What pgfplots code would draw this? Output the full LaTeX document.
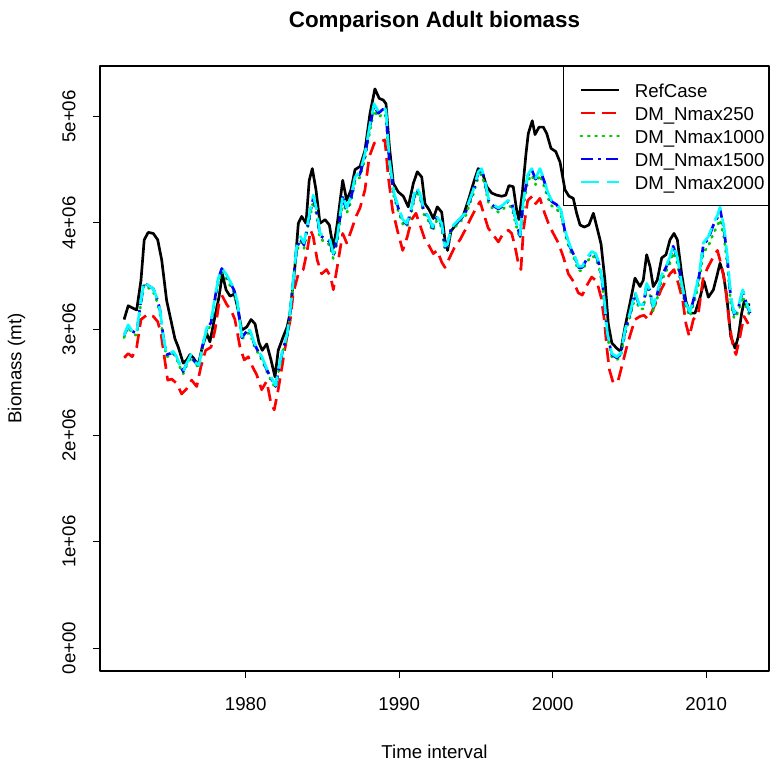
\documentclass[border=0pt]{standalone}
\usepackage{fontspec}
\setmainfont{Liberation Sans}
\usepackage{pgfplots}
\pgfplotsset{compat=1.18}
\definecolor{rgreen}{RGB}{0,205,0}
\definecolor{rcyan}{RGB}{0,255,255}
\definecolor{rblue}{RGB}{0,0,255}
\definecolor{rred}{RGB}{255,0,0}
\begin{document}
\begin{tikzpicture}
\path[use as bounding box] (-75pt,-72pt) rectangle (503.25pt,503.25pt);
\begin{axis}[
  at={(0pt,0pt)}, anchor=south west,
  scale only axis, width=501.75pt, height=453.75pt,
  xmin=1970.51, xmax=2014.09, ymin=-0.216, ymax=5.475,
  axis line style={line width=0.8pt},
  xtick={1980,1990,2000,2010}, xticklabels={1980,1990,2000,2010},
  ytick={0,1,2,3,4,5}, yticklabels={0e+00,1e+06,2e+06,3e+06,4e+06,5e+06},
  xtick pos=bottom, ytick pos=left,
  tick align=outside, major tick length=5.25pt,
  tick style={line width=0.8pt, black},
  every tick label/.append style={font=\fontsize{14}{17}\selectfont},
  xticklabel style={anchor=center, yshift=-19.5pt},
  yticklabel style={xshift=-18pt, rotate=90, anchor=center},
  xlabel={Time interval}, ylabel={Biomass (mt)},
  xlabel style={at={(axis description cs:0.5,-0.13388)}, anchor=center, font=\fontsize{14}{17}\selectfont},
  ylabel style={at={(axis description cs:-0.1246,0.5)}, anchor=center, font=\fontsize{14}{17}\selectfont},
  title={Comparison Adult biomass},
  title style={at={(axis description cs:0.5,1.0595)}, anchor=center, font=\bfseries\fontsize{16.8}{20}\selectfont},
  legend cell align=left,
  legend style={at={(1,1)}, anchor=north east, draw=black, fill=none, line width=0.8pt,
    inner xsep=3pt, inner ysep=9pt, row sep=0pt,
    font=\fontsize{14}{17}\selectfont,
    nodes={inner sep=0pt, text height=14.25pt, text depth=3pt},
    /tikz/every odd column/.append style={column sep=11pt}},
  legend image code/.code={\path (0pt,0pt); \draw[#1] (9pt,0pt) -- (37.5pt,0pt);},
  line join=round,
]
\addplot[black, line width=2pt] coordinates {
(1972.08,3.09) (1972.35,3.22) (1972.61,3.20) (1972.90,3.18) (1973.18,3.46) (1973.39,3.84)
(1973.65,3.91) (1973.98,3.90) (1974.27,3.84) (1974.53,3.65) (1974.85,3.27) (1975.18,3.05)
(1975.39,2.91) (1975.61,2.83) (1975.93,2.68) (1976.16,2.71) (1976.37,2.76) (1976.59,2.73)
(1976.91,2.66) (1977.17,2.83) (1977.46,2.96) (1977.67,2.88) (1978.00,3.12) (1978.26,3.30)
(1978.48,3.52) (1978.72,3.37) (1978.98,3.31) (1979.26,3.33) (1979.48,3.20) (1979.74,2.99)
(1980.07,3.02) (1980.35,3.09) (1980.61,3.05) (1980.87,2.87) (1981.08,2.80) (1981.37,2.86)
(1981.65,2.71) (1981.91,2.55) (1982.12,2.80) (1982.45,2.93) (1982.70,3.02) (1982.89,3.15)
(1983.21,3.59) (1983.43,3.995) (1983.65,4.06) (1983.93,3.995) (1984.14,4.40) (1984.34,4.51)
(1984.58,4.31) (1984.84,3.995) (1985.17,4.03) (1985.45,3.98) (1985.71,3.76) (1985.97,3.995)
(1986.32,4.40) (1986.58,4.21) (1986.86,4.31) (1987.12,4.50) (1987.45,4.53) (1987.77,4.68)
(1988.10,5.03) (1988.42,5.26) (1988.70,5.17) (1988.96,5.155) (1989.14,5.12) (1989.36,4.72)
(1989.62,4.37) (1989.94,4.29) (1990.27,4.25) (1990.59,4.15) (1990.92,4.37) (1991.18,4.48)
(1991.47,4.43) (1991.68,4.18) (1991.96,4.12) (1992.22,4.04) (1992.48,4.15) (1992.77,4.10)
(1992.98,3.84) (1993.15,3.74) (1993.37,3.92) (1993.75,3.995) (1994.18,4.07) (1994.50,4.21)
(1994.83,4.37) (1995.15,4.51) (1995.41,4.48) (1995.70,4.34) (1996.03,4.28) (1996.35,4.26)
(1996.68,4.25) (1996.94,4.26) (1997.15,4.35) (1997.43,4.34) (1997.65,4.12) (1997.80,4.03)
(1998.02,4.28) (1998.26,4.65) (1998.41,4.84) (1998.67,4.96) (1998.85,4.83) (1999.11,4.90)
(1999.39,4.90) (1999.61,4.84) (1999.89,4.70) (2000.20,4.67) (2000.48,4.57) (2000.80,4.31)
(2001.06,4.25) (2001.34,4.23) (2001.56,4.09) (2001.78,3.98) (2002.06,3.96) (2002.36,3.98)
(2002.65,4.09) (2002.93,3.93) (2003.15,3.80) (2003.41,3.45) (2003.62,3.05) (2003.85,2.87)
(2004.17,2.82) (2004.43,2.79) (2004.71,3.02) (2005.03,3.24) (2005.36,3.48) (2005.69,3.40)
(2005.90,3.46) (2006.12,3.70) (2006.34,3.59) (2006.55,3.40) (2006.81,3.46) (2007.10,3.67)
(2007.38,3.70) (2007.64,3.84) (2007.90,3.90) (2008.12,3.84) (2008.40,3.52) (2008.68,3.26)
(2008.94,3.15) (2009.27,3.15) (2009.60,3.30) (2009.86,3.45) (2010.14,3.30) (2010.47,3.37)
(2010.73,3.52) (2010.90,3.62) (2011.12,3.52) (2011.34,3.30) (2011.60,2.93) (2011.88,2.82)
(2012.09,2.93) (2012.31,3.15) (2012.47,3.26) (2012.64,3.23) (2012.86,3.23)
};
\addlegendentry{RefCase}
\addplot[rred, line width=2pt, dash pattern=on 10.5pt off 5.25pt] coordinates {
(1972.08,2.73) (1972.35,2.77) (1972.61,2.74) (1972.90,2.83) (1973.18,3.09) (1973.62,3.14)
(1973.98,3.12) (1974.27,3.07) (1974.48,2.96) (1974.70,2.74) (1974.92,2.52) (1975.18,2.53)
(1975.50,2.49) (1975.83,2.39) (1976.16,2.44) (1976.48,2.52) (1976.81,2.46) (1977.09,2.65)
(1977.39,2.80) (1977.74,2.83) (1978.00,2.99) (1978.26,3.24) (1978.48,3.31) (1978.77,3.23)
(1979.04,3.18) (1979.30,3.09) (1979.63,2.83) (1979.91,2.71) (1980.17,2.74) (1980.43,2.65)
(1980.72,2.57) (1981.04,2.43) (1981.37,2.51) (1981.65,2.30) (1981.86,2.24) (1982.12,2.43)
(1982.45,2.72) (1982.75,2.98) (1982.90,3.08) (1983.10,3.34) (1983.43,3.52) (1983.75,3.56)
(1983.97,3.71) (1984.23,3.93) (1984.40,3.87) (1984.66,3.65) (1984.95,3.52) (1985.27,3.56)
(1985.54,3.49) (1985.71,3.37) (1985.97,3.59) (1986.32,3.90) (1986.58,3.81) (1986.86,3.92)
(1987.19,4.06) (1987.45,4.14) (1987.77,4.31) (1988.05,4.62) (1988.38,4.75) (1988.75,4.76)
(1989.07,4.78) (1989.29,4.43) (1989.57,4.12) (1989.88,3.93) (1990.23,3.74) (1990.53,3.87)
(1990.81,4.03) (1991.09,4.09) (1991.40,3.96) (1991.68,3.84) (1991.96,3.78) (1992.22,3.71)
(1992.48,3.74) (1992.77,3.63) (1992.98,3.58) (1993.31,3.68) (1993.64,3.78) (1993.96,3.84)
(1994.29,3.93) (1994.62,4.03) (1994.94,4.12) (1995.27,4.20) (1995.54,4.07) (1995.80,3.95)
(1996.13,3.885) (1996.46,3.82) (1996.78,3.90) (1997.11,3.93) (1997.33,3.90) (1997.54,3.78)
(1997.76,3.62) (1997.93,3.56) (1998.09,3.93) (1998.37,4.21) (1998.67,4.25) (1998.89,4.18)
(1999.17,4.23) (1999.45,4.10) (1999.76,3.98) (2000.04,3.90) (2000.37,3.81) (2000.69,3.68)
(2001.02,3.52) (2001.34,3.45) (2001.67,3.34) (2001.93,3.32) (2002.22,3.41) (2002.54,3.49)
(2002.87,3.45) (2003.15,3.30) (2003.36,3.09) (2003.52,2.83) (2003.69,2.62) (2003.95,2.49)
(2004.27,2.52) (2004.56,2.68) (2004.82,2.83) (2005.08,2.96) (2005.36,3.09) (2005.69,3.12)
(2005.95,3.13) (2006.23,3.09) (2006.51,3.18) (2006.78,3.27) (2007.06,3.37) (2007.38,3.46)
(2007.64,3.52) (2007.90,3.56) (2008.18,3.43) (2008.47,3.27) (2008.68,3.05) (2008.90,2.93)
(2009.16,3.09) (2009.49,3.15) (2009.81,3.49) (2010.14,3.59) (2010.47,3.68) (2010.73,3.74)
(2010.95,3.62) (2011.23,3.43) (2011.51,3.05) (2011.77,2.82) (2011.94,2.76) (2012.20,2.93)
(2012.46,3.12) (2012.74,3.05)
};
\addlegendentry{DM\_Nmax250}
\addplot[rgreen, line width=2pt, line cap=round, dash pattern=on 1pt off 4.5pt] coordinates {
(1972.08,2.92) (1972.35,3.02) (1972.61,2.96) (1972.90,2.94) (1973.11,3.18) (1973.39,3.42)
(1973.65,3.39) (1973.98,3.35) (1974.20,3.27) (1974.42,3.15) (1974.63,2.91) (1974.85,2.74)
(1975.07,2.75) (1975.28,2.77) (1975.50,2.72) (1975.72,2.64) (1975.93,2.58) (1976.16,2.66)
(1976.44,2.74) (1976.70,2.67) (1976.96,2.64) (1977.17,2.81) (1977.46,2.98) (1977.74,3.04)
(1978.00,3.26) (1978.22,3.44) (1978.44,3.54) (1978.72,3.48) (1978.98,3.41) (1979.26,3.34)
(1979.48,3.21) (1979.74,2.90) (1980.07,2.96) (1980.28,2.96) (1980.56,2.84) (1980.82,2.77)
(1981.08,2.70) (1981.37,2.60) (1981.65,2.52) (1981.95,2.44) (1982.17,2.62) (1982.45,2.80)
(1982.70,2.92) (1982.88,3.11) (1983.10,3.42) (1983.32,3.73) (1983.58,3.82) (1983.80,3.76)
(1984.08,3.98) (1984.40,4.20) (1984.63,4.07) (1984.84,3.85) (1985.17,3.82) (1985.49,3.79)
(1985.71,3.66) (1985.97,3.82) (1986.32,4.20) (1986.58,4.09) (1986.86,4.20) (1987.12,4.38)
(1987.45,4.43) (1987.77,4.60) (1988.10,4.87) (1988.36,5.06) (1988.64,4.99) (1988.96,5.03)
(1989.14,5.00) (1989.36,4.54) (1989.66,4.24) (1989.94,4.11) (1990.23,3.99) (1990.49,3.96)
(1990.77,4.08) (1991.09,4.29) (1991.35,4.24) (1991.61,4.08) (1991.90,4.02) (1992.18,3.92)
(1992.44,4.02) (1992.77,3.96) (1992.98,3.75) (1993.15,3.77) (1993.37,3.92) (1993.64,3.96)
(1993.96,4.01) (1994.29,4.05) (1994.55,4.16) (1994.83,4.27) (1995.15,4.43) (1995.37,4.46)
(1995.59,4.34) (1995.85,4.17) (1996.13,4.13) (1996.46,4.10) (1996.78,4.13) (1996.94,4.15)
(1997.07,4.16) (1997.33,4.15) (1997.59,3.99) (1997.87,3.85) (1998.09,4.16) (1998.37,4.39)
(1998.63,4.45) (1998.89,4.36) (1999.17,4.45) (1999.45,4.34) (1999.67,4.24) (1999.93,4.16)
(2000.26,4.13) (2000.54,4.07) (2000.80,3.89) (2001.13,3.74) (2001.41,3.66) (2001.67,3.55)
(2001.93,3.55) (2002.22,3.63) (2002.54,3.69) (2002.80,3.67) (2003.02,3.58) (2003.23,3.42)
(2003.41,3.17) (2003.56,2.93) (2003.85,2.74) (2004.17,2.71) (2004.43,2.74) (2004.71,2.95)
(2005.03,3.11) (2005.36,3.30) (2005.64,3.19) (2005.90,3.19) (2006.12,3.38) (2006.34,3.32)
(2006.55,3.17) (2006.81,3.29) (2007.10,3.46) (2007.38,3.54) (2007.64,3.62) (2007.85,3.72)
(2008.12,3.62) (2008.40,3.38) (2008.68,3.20) (2008.94,3.12) (2009.27,3.28) (2009.55,3.45)
(2009.81,3.72) (2010.14,3.78) (2010.47,3.90) (2010.73,3.97) (2010.90,4.03) (2011.16,3.86)
(2011.38,3.60) (2011.60,3.24) (2011.82,3.10) (2012.09,3.16) (2012.38,3.31) (2012.64,3.19)
(2012.86,3.12)
};
\addlegendentry{DM\_Nmax1000}
\addplot[rblue, line width=2pt, dash pattern=on 9pt off 4pt on 2pt off 4pt] coordinates {
(1972.08,2.94) (1972.35,3.03) (1972.61,2.98) (1972.90,2.96) (1973.11,3.20) (1973.39,3.44)
(1973.65,3.41) (1973.98,3.38) (1974.20,3.30) (1974.42,3.18) (1974.63,2.93) (1974.85,2.76)
(1975.07,2.77) (1975.28,2.78) (1975.50,2.74) (1975.72,2.66) (1975.93,2.60) (1976.16,2.68)
(1976.44,2.75) (1976.70,2.69) (1976.96,2.66) (1977.17,2.83) (1977.46,3.00) (1977.74,3.06)
(1978.00,3.29) (1978.22,3.47) (1978.44,3.57) (1978.72,3.51) (1978.98,3.44) (1979.26,3.36)
(1979.48,3.23) (1979.74,2.92) (1980.07,2.98) (1980.28,2.98) (1980.56,2.86) (1980.82,2.79)
(1981.08,2.72) (1981.37,2.62) (1981.65,2.54) (1981.95,2.46) (1982.17,2.64) (1982.45,2.82)
(1982.70,2.94) (1982.88,3.14) (1983.10,3.45) (1983.32,3.76) (1983.58,3.85) (1983.80,3.79)
(1984.08,4.01) (1984.40,4.23) (1984.63,4.10) (1984.84,3.88) (1985.17,3.85) (1985.49,3.82)
(1985.71,3.69) (1985.97,3.86) (1986.32,4.24) (1986.58,4.12) (1986.86,4.23) (1987.12,4.41)
(1987.45,4.46) (1987.77,4.63) (1988.10,4.91) (1988.36,5.10) (1988.64,5.03) (1988.96,5.07)
(1989.14,5.04) (1989.36,4.57) (1989.66,4.27) (1989.94,4.14) (1990.23,4.02) (1990.49,3.985)
(1990.77,4.11) (1991.09,4.32) (1991.35,4.27) (1991.61,4.11) (1991.90,4.05) (1992.18,3.95)
(1992.44,4.05) (1992.77,3.985) (1992.98,3.77) (1993.15,3.79) (1993.37,3.94) (1993.64,3.985)
(1993.96,4.03) (1994.29,4.08) (1994.55,4.19) (1994.83,4.30) (1995.15,4.47) (1995.37,4.50)
(1995.59,4.38) (1995.85,4.20) (1996.13,4.16) (1996.46,4.13) (1996.78,4.16) (1997.07,4.20)
(1997.33,4.19) (1997.59,4.02) (1997.87,3.875) (1998.09,4.20) (1998.37,4.44) (1998.63,4.50)
(1998.89,4.41) (1999.17,4.50) (1999.45,4.39) (1999.67,4.28) (1999.93,4.20) (2000.26,4.17)
(2000.54,4.11) (2000.80,3.92) (2001.13,3.77) (2001.41,3.69) (2001.67,3.58) (2001.93,3.58)
(2002.22,3.66) (2002.54,3.72) (2002.80,3.70) (2003.02,3.61) (2003.23,3.45) (2003.41,3.19)
(2003.56,2.95) (2003.85,2.76) (2004.17,2.73) (2004.43,2.76) (2004.71,2.98) (2005.03,3.14)
(2005.36,3.34) (2005.64,3.22) (2005.90,3.22) (2006.12,3.42) (2006.34,3.36) (2006.55,3.20)
(2006.81,3.33) (2007.10,3.50) (2007.38,3.58) (2007.64,3.67) (2007.85,3.78) (2008.12,3.67)
(2008.40,3.42) (2008.68,3.23) (2008.94,3.15) (2009.27,3.33) (2009.55,3.51) (2009.81,3.79)
(2010.14,3.85) (2010.47,3.98) (2010.73,4.05) (2010.90,4.13) (2011.16,3.94) (2011.38,3.66)
(2011.60,3.29) (2011.82,3.14) (2012.09,3.20) (2012.38,3.36) (2012.64,3.23) (2012.86,3.15)
};
\addlegendentry{DM\_Nmax1500}
\addplot[rcyan, line width=2pt, dash pattern=on 14pt off 6pt] coordinates {
(1972.08,2.94) (1972.35,3.04) (1972.61,2.98) (1972.90,2.96) (1973.11,3.21) (1973.39,3.45)
(1973.65,3.41) (1973.98,3.38) (1974.20,3.30) (1974.42,3.18) (1974.63,2.93) (1974.85,2.76)
(1975.07,2.77) (1975.28,2.79) (1975.50,2.74) (1975.72,2.66) (1975.93,2.60) (1976.16,2.68)
(1976.44,2.76) (1976.70,2.69) (1976.96,2.66) (1977.17,2.83) (1977.46,3.01) (1977.74,3.07)
(1978.00,3.30) (1978.22,3.48) (1978.44,3.57) (1978.72,3.52) (1978.98,3.45) (1979.26,3.37)
(1979.48,3.24) (1979.74,2.93) (1980.07,2.99) (1980.28,2.99) (1980.56,2.87) (1980.82,2.80)
(1981.08,2.73) (1981.37,2.63) (1981.65,2.55) (1981.95,2.47) (1982.17,2.65) (1982.45,2.83)
(1982.70,2.95) (1982.88,3.15) (1983.10,3.46) (1983.32,3.78) (1983.58,3.87) (1983.80,3.81)
(1984.08,4.03) (1984.40,4.26) (1984.63,4.12) (1984.84,3.90) (1985.17,3.87) (1985.49,3.84)
(1985.71,3.71) (1985.97,3.87) (1986.32,4.26) (1986.58,4.14) (1986.86,4.25) (1987.12,4.43)
(1987.45,4.48) (1987.77,4.65) (1988.10,4.93) (1988.36,5.12) (1988.64,5.05) (1988.96,5.09)
(1989.14,5.06) (1989.36,4.59) (1989.66,4.28) (1989.94,4.15) (1990.23,4.03) (1990.49,3.995)
(1990.77,4.12) (1991.09,4.34) (1991.35,4.28) (1991.61,4.12) (1991.90,4.06) (1992.18,3.96)
(1992.44,4.06) (1992.77,3.995) (1992.98,3.78) (1993.15,3.80) (1993.37,3.95) (1993.64,3.995)
(1993.96,4.04) (1994.29,4.09) (1994.55,4.20) (1994.83,4.31) (1995.15,4.48) (1995.37,4.51)
(1995.59,4.39) (1995.85,4.21) (1996.13,4.17) (1996.46,4.14) (1996.78,4.17) (1997.07,4.21)
(1997.33,4.20) (1997.59,4.03) (1997.87,3.885) (1998.09,4.21) (1998.37,4.45) (1998.63,4.51)
(1998.89,4.42) (1999.17,4.51) (1999.45,4.40) (1999.67,4.29) (1999.93,4.21) (2000.26,4.18)
(2000.54,4.12) (2000.80,3.93) (2001.13,3.78) (2001.41,3.70) (2001.67,3.59) (2001.93,3.59)
(2002.22,3.67) (2002.54,3.73) (2002.80,3.71) (2003.02,3.62) (2003.23,3.46) (2003.41,3.20)
(2003.56,2.96) (2003.85,2.77) (2004.17,2.74) (2004.43,2.77) (2004.71,2.99) (2005.03,3.15)
(2005.36,3.35) (2005.64,3.23) (2005.90,3.23) (2006.12,3.43) (2006.34,3.37) (2006.55,3.21)
(2006.81,3.34) (2007.10,3.51) (2007.38,3.59) (2007.64,3.68) (2007.85,3.79) (2008.12,3.68)
(2008.40,3.43) (2008.68,3.24) (2008.94,3.16) (2009.27,3.34) (2009.55,3.52) (2009.81,3.81)
(2010.14,3.87) (2010.47,3.995) (2010.73,4.07) (2010.90,4.15) (2011.16,3.96) (2011.38,3.68)
(2011.60,3.30) (2011.82,3.15) (2012.09,3.21) (2012.38,3.37) (2012.64,3.24) (2012.86,3.16)
};
\addlegendentry{DM\_Nmax2000}
\end{axis}
\end{tikzpicture}
\end{document}
